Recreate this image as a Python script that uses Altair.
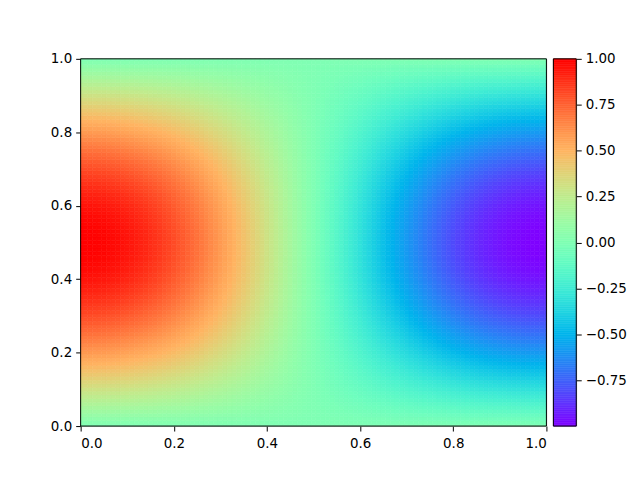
import altair as alt
import pandas as pd
import numpy as np

# Grid positions (0..1 in steps of 0.01)
grid = [round(k / 100, 2) for k in range(101)]

# Field profile along y=0.5 (left to right)
x_profile = [1.000, 1.000, 0.998, 0.996, 0.992, 0.988, 0.982, 0.976, 0.969, 0.960,
             0.951, 0.941, 0.930, 0.918, 0.905, 0.891, 0.876, 0.861, 0.844, 0.827,
             0.809, 0.790, 0.771, 0.750, 0.729, 0.707, 0.685, 0.661, 0.637, 0.613,
             0.588, 0.562, 0.536, 0.509, 0.482, 0.454, 0.426, 0.397, 0.368, 0.339,
             0.309, 0.279, 0.249, 0.218, 0.187, 0.156, 0.125, 0.094, 0.063, 0.031,
             0.000,
             -0.031, -0.063, -0.094, -0.125, -0.156, -0.187, -0.218, -0.249, -0.279, -0.309,
             -0.339, -0.368, -0.397, -0.426, -0.454, -0.482, -0.509, -0.536, -0.562, -0.588,
             -0.613, -0.637, -0.661, -0.685, -0.707, -0.729, -0.750, -0.771, -0.790, -0.809,
             -0.827, -0.844, -0.861, -0.876, -0.891, -0.905, -0.918, -0.930, -0.941, -0.951,
             -0.960, -0.969, -0.976, -0.982, -0.988, -0.992, -0.996, -0.998, -1.000, -1.000]
# Field profile along x=0 (bottom to top), relative amplitude
y_profile = [0.000, 0.031, 0.063, 0.094, 0.125, 0.156, 0.187, 0.218, 0.249, 0.279,
             0.309, 0.339, 0.368, 0.397, 0.426, 0.454, 0.482, 0.509, 0.536, 0.562,
             0.588, 0.613, 0.637, 0.661, 0.685, 0.707, 0.729, 0.750, 0.771, 0.790,
             0.809, 0.827, 0.844, 0.861, 0.876, 0.891, 0.905, 0.918, 0.930, 0.941,
             0.951, 0.960, 0.969, 0.976, 0.982, 0.988, 0.992, 0.996, 0.998, 1.000,
             1.000,
             1.000, 0.998, 0.996, 0.992, 0.988, 0.982, 0.976, 0.969, 0.960, 0.951,
             0.941, 0.930, 0.918, 0.905, 0.891, 0.876, 0.861, 0.844, 0.827, 0.809,
             0.790, 0.771, 0.750, 0.729, 0.707, 0.685, 0.661, 0.637, 0.613, 0.588,
             0.562, 0.536, 0.509, 0.482, 0.454, 0.426, 0.397, 0.368, 0.339, 0.309,
             0.279, 0.249, 0.218, 0.187, 0.156, 0.125, 0.094, 0.063, 0.031, 0.000]

axis_ticks = [0.0, 0.2, 0.4, 0.6, 0.8, 1.0]
cbar_ticks = [-0.75, -0.5, -0.25, 0.0, 0.25, 0.5, 0.75, 1.0]

half = 0.005
rows = []
for xv, px in zip(grid, x_profile):
    for yv, py in zip(grid, y_profile):
        rows.append({
            "x0": max(0.0, xv - half), "x1": min(1.0, xv + half),
            "y0": max(0.0, yv - half), "y1": min(1.0, yv + half),
            "v": round(px * py, 4),
        })
df = pd.DataFrame(rows)
vmin, vmax = float(df.v.min()), float(df.v.max())

# matplotlib 'rainbow' colormap stops
ts = np.linspace(0, 1, 33)
stops = []
for t in ts:
    r = min(1.0, abs(2 * t - 0.5))
    g = np.sin(np.pi * t)
    b = max(0.0, np.cos(np.pi * t / 2))
    stops.append("#%02x%02x%02x" % (int(round(r * 255)), int(round(g * 255)), int(round(b * 255))))

cscale = alt.Scale(domain=[vmin, vmax], range=stops, interpolate="rgb")

FONT = "DejaVu Sans"
axis_common = dict(labelFont=FONT, labelFontSize=13.5, labelColor="black",
                   tickColor="black", tickSize=5, domain=False,
                   grid=False, title=None)

W, H, CW = 468, 369, 23

heat = alt.Chart(df).mark_rect(strokeWidth=0.6).encode(
    x=alt.X("x0:Q", scale=alt.Scale(domain=[0, 1], nice=False, zero=False),
            axis=alt.Axis(values=axis_ticks, format=".1f", labelPadding=6, **axis_common)),
    x2="x1:Q",
    y=alt.Y("y0:Q", scale=alt.Scale(domain=[0, 1], nice=False, zero=False),
            axis=alt.Axis(values=axis_ticks, format=".1f", labelPadding=4, **axis_common)),
    y2="y1:Q",
    color=alt.Color("v:Q", scale=cscale, legend=None),
    stroke=alt.Stroke("v:Q", scale=cscale, legend=None),
)
frame = alt.Chart(pd.DataFrame({"a": [0]})).mark_rect(
    fill=None, stroke="black", strokeWidth=1
).encode(x=alt.value(0), x2=alt.value(W), y=alt.value(0), y2=alt.value(H))
main = alt.layer(heat, frame).properties(width=W, height=H)

# colorbar stripes
edges = np.linspace(vmin, vmax, 201)
cb = pd.DataFrame({"v0": edges[:-1], "v1": edges[1:], "v": (edges[:-1] + edges[1:]) / 2})
cbar_rects = alt.Chart(cb).mark_rect(strokeWidth=0.6).encode(
    x=alt.value(0), x2=alt.value(CW),
    y=alt.Y("v0:Q", scale=alt.Scale(domain=[vmin, vmax], nice=False, zero=False),
            axis=alt.Axis(orient="right", values=cbar_ticks, format=".2f", labelPadding=4,
                          labelExpr="replace(datum.label, '-', '\u2212')", **axis_common)),
    y2="v1:Q",
    color=alt.Color("v:Q", scale=cscale, legend=None),
    stroke=alt.Stroke("v:Q", scale=cscale, legend=None),
)
cframe = alt.Chart(pd.DataFrame({"a": [0]})).mark_rect(
    fill=None, stroke="black", strokeWidth=1
).encode(x=alt.value(0), x2=alt.value(CW), y=alt.value(0), y2=alt.value(H))
cbar = alt.layer(cbar_rects, cframe).properties(width=CW, height=H)

chart = alt.hconcat(main, cbar, spacing=5).resolve_scale(
    color="independent", y="independent"
).properties(
    padding={"left": 42, "top": 42, "right": 5, "bottom": 5}
).configure_view(stroke=None).configure(background="white")

chart.save("out.html", embed_options={"renderer": "svg", "actions": False})
